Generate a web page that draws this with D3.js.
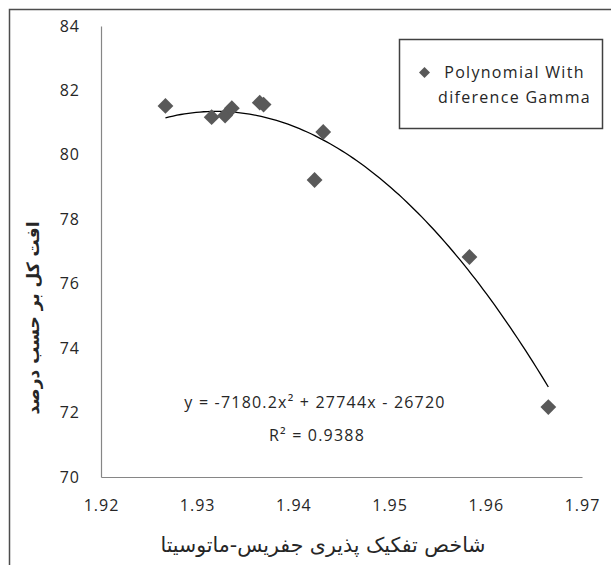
<!DOCTYPE html>
<meta charset="utf-8">
<title>Polynomial trend</title>
<script src="https://d3js.org/d3.v7.min.js"></script>
<style>
    body { margin: 0; background: #fff; }
    text { font-family: "Open Sans", sans-serif; fill: #262626; }
</style>
<body>
<div id="chart"></div>
<script>
    // data
    var xValues = [1.9267, 1.9315, 1.9329, 1.9336, 1.9365, 1.9369, 1.9422, 1.9431, 1.9583, 1.9665];
    var yValues = [81.52, 81.17, 81.22, 81.45, 81.62, 81.56, 79.22, 80.71, 76.83, 72.17];
    var xTicks = [1.92, 1.93, 1.94, 1.95, 1.96, 1.97];
    var yTicks = [70, 72, 74, 76, 78, 80, 82, 84];
    var seriesName = ["Polynomial With", "diference Gamma"];
    // trend line: coefficients from the printed equation, peak height
    var trendA = -7180.2, trendB = 27744;
    var trendPeak = 81.35;
    var equationText = "y = -7180.2x\u00b2 + 27744x - 26720";
    var r2Text = "R\u00b2 = 0.9388";
    var xTitle = "شاخص تفکیک پذیری جفریس-ماتوسیتا";
    var yTitle = "افت کل بر حسب درصد";

    var W = 611, H = 565;
    var margin = {top: 26, right: 29, bottom: 88, left: 101},
        width = W - margin.left - margin.right,
        height = H - margin.top - margin.bottom;

    var svg = d3.select("#chart").append("svg")
        .attr("width", W)
        .attr("height", H);

    // outer frame, runs off the right and bottom
    svg.append("rect")
        .attr("x", 9.5).attr("y", 9.5)
        .attr("width", 640).attr("height", 600)
        .attr("fill", "none")
        .attr("stroke", "#4d4d4d")
        .attr("stroke-width", 1.5);

    var g = svg.append("g")
        .attr("transform", "translate(" + margin.left + "," + margin.top + ")");

    var x = d3.scaleLinear().domain([1.92, 1.97]).range([0, width]);
    var y = d3.scaleLinear().domain([70, 84]).range([height, 0]);

    // axes: only the line and labels, no tick marks
    var xAxis = g.append("g")
        .attr("transform", "translate(0," + height + ")")
        .call(d3.axisBottom(x).tickValues(xTicks).tickSize(0).tickPadding(23)
            .tickFormat(d3.format(".2f")));
    var yAxis = g.append("g")
        .call(d3.axisLeft(y).tickValues(yTicks).tickSize(0).tickPadding(21));
    [xAxis, yAxis].forEach(function(a) {
        a.select(".domain").attr("stroke", "#868686").attr("stroke-width", 1.2);
        a.selectAll("text").style("font-size", "16px").style("letter-spacing", "1px")
            .attr("fill", "#1f1f1f")
            .style("font-family", "'Open Sans', sans-serif");
    });

    // trend line between the smallest and largest x
    var xv = -trendB / (2 * trendA);
    function trend(v) { return trendPeak + trendA * (v - xv) * (v - xv); }
    var x0 = d3.min(xValues), x1 = d3.max(xValues);
    var xs = d3.range(0, 101).map(function(i) { return x0 + (x1 - x0) * i / 100; });
    g.append("path")
        .datum(xs)
        .attr("fill", "none")
        .attr("stroke", "#000")
        .attr("stroke-width", 1.3)
        .attr("d", d3.line().x(function(d) { return x(d); }).y(function(d) { return y(trend(d)); }));

    // diamonds
    var diamond = d3.symbol().type(d3.symbolSquare).size(125);
    g.selectAll(".pt")
        .data(d3.range(xValues.length))
        .enter().append("path")
        .attr("class", "pt")
        .attr("d", diamond)
        .attr("transform", function(i) { return "translate(" + x(xValues[i]) + "," + y(yValues[i]) + ") rotate(45)"; })
        .attr("fill", "#595959");

    // equation and R²
    g.append("text")
        .attr("x", 214).attr("y", 382)
        .attr("text-anchor", "middle")
        .style("font-size", "16px").style("letter-spacing", "1.2px")
        .text(equationText);
    g.append("text")
        .attr("x", 216).attr("y", 415)
        .attr("text-anchor", "middle")
        .style("font-size", "16px").style("letter-spacing", "1.2px")
        .text(r2Text);

    // legend
    var lg = svg.append("g").attr("transform", "translate(399.5,39.5)");
    lg.append("rect")
        .attr("width", 203).attr("height", 89)
        .attr("fill", "#fff")
        .attr("stroke", "#404040")
        .attr("stroke-width", 1.5);
    lg.append("path")
        .attr("d", d3.symbol().type(d3.symbolSquare).size(60))
        .attr("transform", "translate(25,33) rotate(45)")
        .attr("fill", "#595959");
    lg.selectAll(".lt")
        .data(seriesName)
        .enter().append("text")
        .attr("class", "lt")
        .attr("x", 115)
        .attr("y", function(d, i) { return 38 + i * 25; })
        .attr("text-anchor", "middle")
        .style("font-size", "16px").style("letter-spacing", "1.3px")
        .text(function(d) { return d; });

    // axis titles
    svg.append("text")
        .attr("x", 323).attr("y", 552)
        .attr("text-anchor", "middle")
        .attr("direction", "rtl")
        .style("font-size", "20.5px")
        .style("font-family", "'DejaVu Sans', 'Noto Sans', sans-serif")
        .text(xTitle);
    svg.append("text")
        .attr("transform", "translate(39,318) rotate(-90)")
        .attr("text-anchor", "middle")
        .attr("direction", "rtl")
        .style("font-size", "17px")
        .style("font-weight", "bold")
        .style("font-family", "'DejaVu Sans', 'Noto Sans', sans-serif")
        .text(yTitle);
</script>
</body>
